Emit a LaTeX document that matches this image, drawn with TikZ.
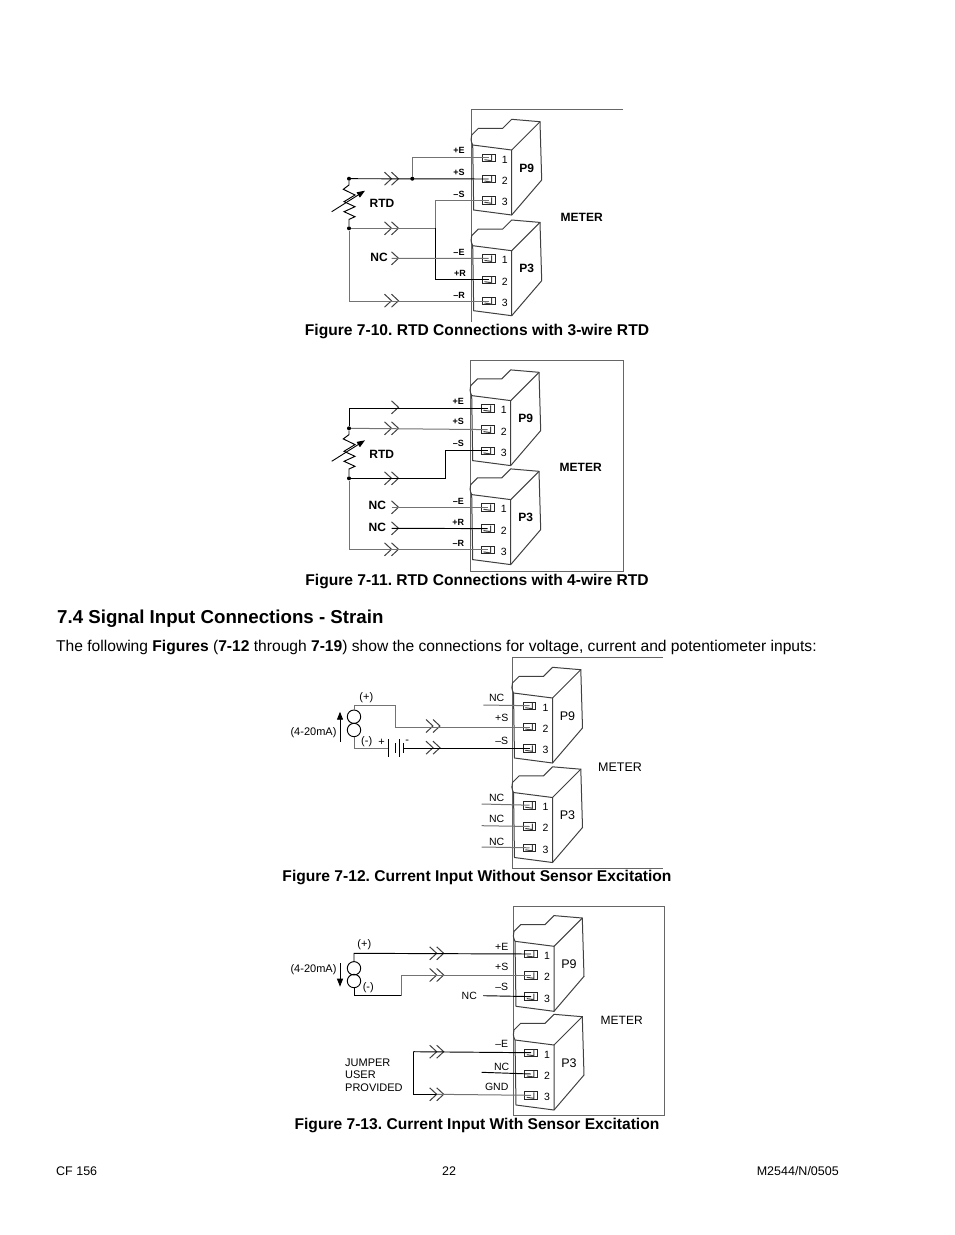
\documentclass[tikz,border=0pt]{standalone}
\usepackage{fontspec}
\setmainfont{Liberation Sans}
\frenchspacing
\usetikzlibrary{arrows.meta}
\tikzset{
  wire/.style={black,line width=0.95pt},
  graywire/.style={black!55,line width=1pt},
  frameline/.style={black!60,line width=1pt},
  blockline/.style={black!75,line width=1pt},
  pinbox/.style={draw=black!85,line width=0.9pt,minimum width=12.5pt,minimum height=7.5pt,inner sep=0pt},
  wiredot/.style={circle,fill=black,inner sep=0pt,minimum size=4pt},
  lbl/.style={inner sep=0pt,font=\fontsize{9}{10}\selectfont},
  boldlbl/.style={inner sep=0pt,font=\fontsize{9}{10}\selectfont\bfseries},
  pinnum/.style={inner sep=0pt,font=\fontsize{10.5}{12}\selectfont},
  capt/.style={inner sep=0pt,anchor=base,font=\fontsize{15.6}{18}\selectfont\bfseries},
  foot/.style={inner sep=0pt,anchor=base,font=\fontsize{12.5}{15}\selectfont},
  tip/.style={-{Triangle[length=8pt,width=6pt]},black,line width=0.9pt}
}
\newcommand{\plugblock}[5]{
  \begin{scope}[shift={(#2,#3)}]
    \draw[blockline] (0,0) .. controls (-2,-4) and (-2,-7) .. (-1,-10) -- (5.7,-16.7) -- (30,-16.7)
      -- (39,-25.7) -- (67.3,-23.3) -- (69,35) -- (39,70) -- (1,65) -- cycle;
    \draw[blockline] (0,0) -- (39,5) -- (39,70);
    \draw[blockline] (39,5) -- (67.3,-23.3);
    \foreach \n/\ypin in {1/12.7,2/34,3/55.3} {
      \node[pinbox] (#1\n) at (16,\ypin) {};
      \draw[blockline] (#1\n.west) ++(2.5,2) -- ++(7,1) -- ++(0,-6);
      \node[pinnum] (#1n\n) at (32,\ypin+1.8) {\n};
    }
    \node[#5] (#1name) at (54,23) {#4};
  \end{scope}
}
\newcommand{\dblplug}[2]{
  \coordinate (#1) at (#2);
  \draw[blockline] (#1) ++(-7,-6.5) -- ++(7,6.5) -- ++(-7,6.5);
  \draw[blockline] (#1) ++(0,-6.5) -- ++(7,6.5) -- ++(-7,6.5);
}
\newcommand{\oneplug}[2]{
  \coordinate (#1) at (#2);
  \draw[blockline] (#1) ++(0,-6.5) -- ++(7,6.5) -- ++(-7,6.5);
}
\newcommand{\rtdzig}[2]{
  \draw[wire] (#1) -- ++(0,6.3) -- ++(-5.7,4.3) -- ++(11.7,5.7) -- ++(-11,6.7) -- ++(11,5) -- ++(-11,5)
    -- ++(11,5) -- ++(-6,2.7) -- (#2);
  \draw[tip] (#1) ++(-17.3,33) -- ++(33.3,-21);
}
\newcommand{\sourcepair}[2]{
  \draw[wire] (#1) circle (6.7pt);
  \draw[wire] (#2) circle (6.7pt);
}
\begin{document}
\begin{tikzpicture}[x=1pt,y=-1pt]
  \useasboundingbox (0,0) rectangle (954,1235);
  \fill[white] (0,0) rectangle (954,1235);

  \draw[frameline] (623,109) -- (471,109) -- (471,322);
  \draw[frameline] (470,360) rectangle (623,571);
  \draw[frameline] (663,657) -- (512.5,657) -- (512.5,868) -- (663,868);
  \draw[frameline] (513,906) rectangle (664,1115);

  \plugblock{p9}{472.7}{145}{P9}{lbl,font=\fontsize{12}{14}\selectfont\bfseries}
  \plugblock{p3}{472.7}{245.7}{P3}{lbl,font=\fontsize{12}{14}\selectfont\bfseries}
  \plugblock{q9}{471.7}{395.6}{P9}{lbl,font=\fontsize{12}{14}\selectfont\bfseries}
  \plugblock{q3}{471.7}{494.6}{P3}{lbl,font=\fontsize{12}{14}\selectfont\bfseries}
  \plugblock{r9}{513.5}{693}{P9}{lbl,font=\fontsize{12.5}{14}\selectfont}
  \plugblock{r3}{513.5}{792.5}{P3}{lbl,font=\fontsize{12.5}{14}\selectfont}
  \plugblock{s9}{515}{941.3}{P9}{lbl,font=\fontsize{12.5}{14}\selectfont}
  \plugblock{s3}{515}{1040}{P3}{lbl,font=\fontsize{12.5}{14}\selectfont}

  \node[wiredot] (adot) at (349,178.7) {};
  \node[wiredot] (bdot) at (349,228.3) {};
  \node[wiredot] (cdot) at (412.3,178.7) {};
  \rtdzig{adot}{bdot}
  \dblplug{aplug}{391.5,178.7}
  \dblplug{bplug}{391.5,228.3}
  \oneplug{cplug}{391.5,258.3}
  \dblplug{dplug}{391.5,300.7}
  \coordinate (ajoin) at (435,228.3);
  \draw[wire] (adot) -- (p92.center);
  \draw[graywire] (cdot) |- (p91.center);
  \draw[graywire] (bdot) -- (ajoin);
  \draw[graywire] (p93.center) -| (ajoin);
  \draw[wire] (ajoin) |- (p32.center);
  \draw[graywire] (cplug) -- (p31.center);
  \draw[graywire] (bdot) |- (p33.center);

  \node[wiredot] (edot) at (349,428.3) {};
  \node[wiredot] (fdot) at (349,478.3) {};
  \rtdzig{edot}{fdot}
  \oneplug{eplug}{391.5,407.3}
  \dblplug{fplug}{391.5,428.3}
  \dblplug{gplug}{391.5,478.3}
  \oneplug{hplug}{391.5,507.3}
  \oneplug{iplug}{391.5,528.3}
  \dblplug{jplug}{391.5,549.3}
  \coordinate (ejoin) at (445.7,478.3);
  \draw[wire] (edot) |- (q91.center);
  \draw[graywire] (edot) -- (q92.center);
  \draw[wire] (fdot) -| (ejoin) |- (q93.center);
  \draw[graywire] (hplug) -- (q31.center);
  \draw[wire] (iplug) -- (q32.center);
  \draw[graywire] (fdot) |- (q33.center);

  \sourcepair{354,716.7}{354,730}
  \draw[tip] (340,741.7) -- (340,711.7);
  \coordinate (ktop) at (354,710);
  \coordinate (kleft) at (354,705);
  \coordinate (kright) at (395,705);
  \coordinate (kbot) at (354,736.7);
  \coordinate (kbat) at (388.3,748.3);
  \coordinate (kbatb) at (403.3,748.3);
  \dblplug{kplug}{433,726}
  \dblplug{lplug}{433,747.7}
  \draw[graywire] (ktop) -- (kleft) -- (kright) |- (r92.center);
  \draw[graywire] (kbot) |- (kbat);
  \draw[wire] (kbatb) -- (r93.center);
  \draw[wire] (388.3,739.3) -- (388.3,757);
  \draw[wire] (395,743.3) -- (395,752.7);
  \draw[wire] (399,739.3) -- (399,757);
  \draw[wire] (403.3,743.3) -- (403.3,752.7);
  \coordinate (m1) at (483.3,705);
  \coordinate (m2) at (481.7,804);
  \coordinate (m3) at (481.7,825.7);
  \coordinate (m4) at (481.7,847);
  \draw[graywire] (m1) -- (r91.center);
  \draw[graywire] (m2) -- (r31.center);
  \draw[graywire] (m3) -- (r32.center);
  \draw[graywire] (m4) -- (r33.center);

  \sourcepair{354,968.3}{354,981}
  \draw[tip] (340,963.3) -- (340,986.7);
  \coordinate (ntop) at (354,961.6);
  \coordinate (nleft) at (354,953.3);
  \coordinate (nbot) at (354,987.7);
  \coordinate (nlow) at (354,995.7);
  \coordinate (nright) at (401.7,995.7);
  \dblplug{nplug}{436.7,953.3}
  \dblplug{oplug}{436.7,975}
  \dblplug{pplug}{436.7,1051.7}
  \dblplug{qplug}{436.7,1094.3}
  \coordinate (ncfree) at (483.3,995.7);
  \coordinate (nofree) at (481.7,1072.3);
  \coordinate (jump) at (413.3,1051.7);
  \draw[wire] (ntop) -- (nleft) -- (s91.center);
  \draw[wire] (nbot) -- (nlow) -- (nright);
  \draw[graywire] (nright) |- (s92.center);
  \draw[wire] (ncfree) -- (s93.center);
  \draw[wire] (jump) -- (s31.center);
  \draw[wire] (jump) |- (qplug);
  \draw[graywire] (qplug) -- (s33.center);
  \draw[wire] (nofree) -- (s32.center);

  \foreach \nm/\x/\y/\txt in {a1/459/150.7/+E, a2/459/172/+S, a3/459/194/–S, a4/459/252/–E, a5/460/273/+R, a6/459/295/–R,
      b1/458.3/401/+E, b2/458.3/421.7/+S, b3/458.3/443.3/–S, b4/458.3/501/–E, b5/458.3/522.3/+R, b6/458.3/543.3/–R}
    \node[boldlbl] (\nm) at (\x,\y) {\txt};

  \foreach \nm/\x/\y/\txt in {a7/382/203/RTD, a8/581.7/217.7/METER, a9/379/257.7/NC,
      b7/381.7/454/RTD, b8/580.7/467.7/METER, b9/377.3/505.7/NC, b10/377.3/527.3/NC}
    \node[lbl,font=\fontsize{12}{14}\selectfont\bfseries] (\nm) at (\x,\y) {\txt};

  \foreach \nm/\x/\y/\txt in {c1/496.7/698.3/NC, c2/501.7/718.3/+S, c3/501.7/740.7/–S, c4/496.7/798.3/NC, c5/496.7/819/NC, c6/496.7/841.7/NC,
      d1/501.7/946.7/+E, d2/501.7/966.7/+S, d3/501.7/987.3/–S, d4/469.3/996/NC, d5/501.7/1044.3/–E, d6/501.7/1066.7/NC, d7/496.7/1086.7/GND}
    \node[lbl,font=\fontsize{10.5}{12}\selectfont] (\nm) at (\x,\y) {\txt};

  \foreach \nm/\x/\y/\txt in {c7/366.3/697.7/(+), c8/366.7/742/(-), c9/381.7/742/+, c10/407.3/742/-, c11/313.5/732.7/(4-20mA),
      d8/364.3/945/(+), d9/368.3/987.3/(-), d10/313.5/970/(4-20mA)}
    \node[lbl,font=\fontsize{11}{12}\selectfont] (\nm) at (\x,\y) {\txt};

  \node[lbl,font=\fontsize{12.5}{14}\selectfont] (c12) at (620,766.7) {METER};
  \node[lbl,font=\fontsize{12}{14}\selectfont] (d11) at (621.7,1020.7) {METER};
  \foreach \nm/\y/\txt in {e1/1062.3/JUMPER, e2/1075/USER, e3/1087.3/PROVIDED}
    \node[lbl,anchor=west,font=\fontsize{11}{12}\selectfont] (\nm) at (345,\y) {\txt};

  \foreach \nm/\y/\txt in {f1/335/Figure 7-10. RTD Connections with 3-wire RTD, f2/585/Figure 7-11. RTD Connections with 4-wire RTD,
      f3/881/Figure 7-12. Current Input Without Sensor Excitation, f4/1129/Figure 7-13. Current Input With Sensor Excitation}
    \node[capt] (\nm) at (477,\y) {\txt};

  \node[inner sep=0pt,anchor=base west,font=\fontsize{18.7}{22}\selectfont\bfseries] (head) at (57,623) {7.4 Signal Input Connections - Strain};
  \node[inner sep=0pt,anchor=base west,font=\fontsize{15.6}{18}\selectfont] (body) at (56,651) {The following \textbf{Figures} (\textbf{7-12} through \textbf{7-19}) show the connections for voltage, current and potentiometer inputs:};
  \node[foot,anchor=base west] (foota) at (56,1175) {CF 156};
  \node[foot] (footb) at (449,1175) {22};
  \node[foot,anchor=base east] (footc) at (839,1175) {M2544/N/0505};
\end{tikzpicture}
\end{document}
